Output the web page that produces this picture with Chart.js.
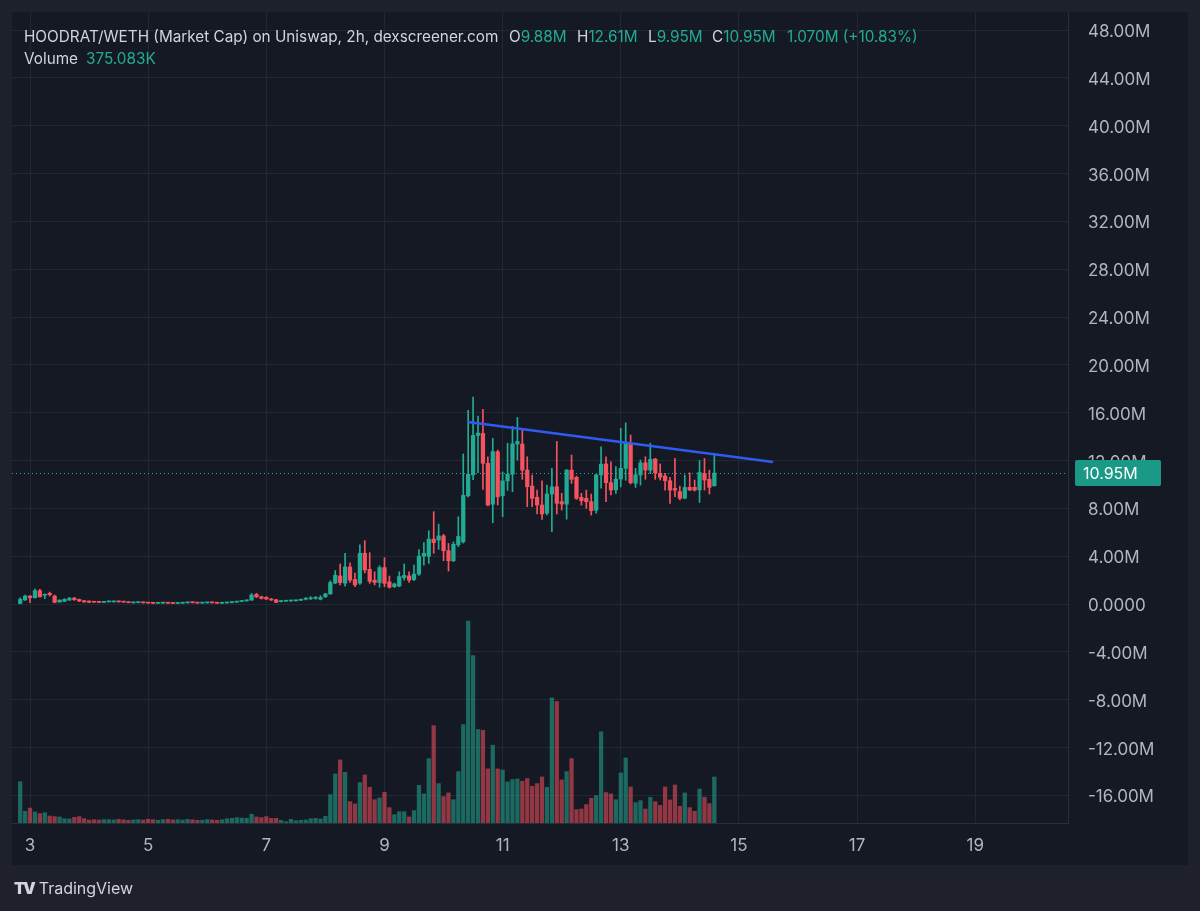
<!DOCTYPE html>
<html>
<head>
<meta charset="utf-8">
<title>HOODRAT/WETH</title>
<script src="https://cdn.jsdelivr.net/npm/chart.js@4.4.1/dist/chart.umd.min.js"></script>
<style>
  html, body { margin: 0; padding: 0; background: #1e212b; }
  body { width: 1200px; height: 911px; position: relative; overflow: hidden; font-family: Inter, "Noto Sans", sans-serif; }
  #panel { position: absolute; left: 12px; top: 12px; width: 1176px; height: 853px; background: #151924; }
  #chart { position: absolute; left: 0; top: 0; }
  .legend { position: absolute; font-size: 15.3px; line-height: 22px; color: #d1d4dc; white-space: nowrap; }
  .up { color: #22ab94; }
  #brand { position: absolute; left: 14px; top: 877px; color: #d1d4dc; font-size: 16px; line-height: 22px; }
  #brand b { font-weight: 900; letter-spacing: -2px; margin-right: 5px; }
</style>
</head>
<body>
<div id="panel"></div>
<canvas id="chart" width="1200" height="911"></canvas>

<div class="legend" style="left:24px;top:26px">HOODRAT/WETH (Market Cap) on Uniswap, 2h, dexscreener.com</div>
<div class="legend" style="left:509px;top:26px">O<span class="up">9.88M</span></div>
<div class="legend" style="left:577px;top:26px">H<span class="up">12.61M</span></div>
<div class="legend" style="left:648px;top:26px">L<span class="up">9.95M</span></div>
<div class="legend" style="left:712px;top:26px">C<span class="up">10.95M</span></div>
<div class="legend up" style="left:787px;top:26px">1.070M (+10.83%)</div>
<div class="legend" style="left:24px;top:48px">Volume</div>
<div class="legend up" style="left:86px;top:48px">375.083K</div>
<div id="brand"><b>TV</b>TradingView</div>

<script>
// 2h candles, market cap in millions, volume in thousands
const FIRST_CANDLE_DAY = 2 + 20 / 24;
const CANDLE_STEP = 2 / 24;

const OPEN = [
  0.05, 0.34, 0.67, 0.53, 1.12, 0.73, 0.90, 0.67, 0.17, 0.22,
  0.33, 0.50, 0.39, 0.28, 0.25, 0.20, 0.18, 0.14, 0.18, 0.18,
  0.23, 0.20, 0.17, 0.10, 0.12, 0.15, 0.12, 0.10, 0.06, 0.08,
  0.11, 0.09, 0.05, 0.07, 0.10, 0.16, 0.12, 0.08, 0.10, 0.14,
  0.11, 0.07, 0.09, 0.12, 0.16, 0.21, 0.26, 0.33, 0.81, 0.61,
  0.56, 0.42, 0.36, 0.20, 0.24, 0.26, 0.27, 0.31, 0.40, 0.44,
  0.48,
  0.40, 0.60, 0.85, 1.75, 2.35, 1.75, 3.10, 2.05, 1.75, 4.25,
  2.90, 2.00, 1.80, 3.05, 1.85, 1.45, 1.50, 2.20, 2.35, 2.05,
  2.50, 4.00, 4.00, 5.43, 5.35, 5.70, 4.46, 3.62, 4.95, 5.20,
  9.05, 10.80, 14.10, 14.27, 11.77, 8.35, 12.74, 9.05, 10.30, 10.85,
  13.38, 13.38, 11.20, 9.87, 8.92, 8.28, 7.60, 9.20, 9.81, 8.56,
  8.35, 11.20, 10.60, 8.92, 8.84, 8.56, 7.85, 10.80, 11.71, 10.15,
  9.55, 10.45, 11.35, 13.44, 10.10, 10.80, 11.82, 11.20, 12.13, 10.93,
  10.70, 10.31, 9.67, 9.40, 8.85, 9.76, 9.76, 9.55, 10.93, 10.43,
  9.88
];
const HIGH = [
  0.53, 0.75, 0.70, 1.28, 1.23, 0.85, 1.00, 0.75, 0.36, 0.45,
  0.55, 0.55, 0.42, 0.31, 0.27, 0.23, 0.20, 0.22, 0.25, 0.26,
  0.26, 0.23, 0.19, 0.16, 0.18, 0.17, 0.14, 0.12, 0.12, 0.13,
  0.13, 0.11, 0.10, 0.12, 0.16, 0.18, 0.14, 0.13, 0.15, 0.16,
  0.13, 0.12, 0.15, 0.19, 0.24, 0.29, 0.36, 0.89, 0.90, 0.66,
  0.62, 0.47, 0.40, 0.30, 0.30, 0.31, 0.33, 0.42, 0.55, 0.62,
  0.64,
  0.70, 0.90, 1.95, 2.80, 3.35, 4.25, 3.45, 2.60, 4.95, 5.30,
  4.30, 2.70, 3.20, 3.88, 2.34, 1.75, 2.70, 3.35, 2.70, 3.26,
  4.55, 5.13, 6.13, 7.72, 6.69, 5.83, 5.07, 5.20, 7.30, 12.55,
  16.20, 17.30, 15.72, 16.28, 12.32, 13.85, 12.88, 11.05, 13.45, 14.85,
  15.61, 14.61, 12.32, 10.79, 9.53, 10.31, 9.95, 11.35, 13.60, 9.26,
  11.25, 12.46, 10.70, 9.26, 9.53, 9.20, 10.85, 13.15, 12.32, 11.90,
  11.50, 14.70, 15.15, 14.13, 11.35, 12.05, 12.32, 13.45, 12.18, 11.71,
  10.93, 10.60, 12.18, 9.87, 10.80, 10.98, 10.37, 12.00, 12.18, 11.20,
  12.61
];
const LOW = [
  0.02, 0.30, 0.11, 0.50, 0.58, 0.45, 0.67, 0.10, 0.14, 0.20,
  0.30, 0.30, 0.20, 0.15, 0.12, 0.13, 0.12, 0.12, 0.16, 0.16,
  0.16, 0.14, 0.10, 0.08, 0.10, 0.08, 0.06, 0.04, 0.05, 0.06,
  0.05, 0.03, 0.04, 0.05, 0.08, 0.09, 0.06, 0.06, 0.08, 0.08,
  0.05, 0.05, 0.07, 0.10, 0.14, 0.19, 0.24, 0.30, 0.55, 0.42,
  0.38, 0.30, 0.12, 0.18, 0.22, 0.23, 0.24, 0.29, 0.34, 0.36,
  0.40,
  0.35, 0.55, 0.80, 1.70, 1.60, 1.50, 1.80, 1.45, 1.65, 2.60,
  1.73, 1.60, 1.40, 1.45, 1.33, 1.38, 1.45, 2.00, 1.80, 1.95,
  2.40, 3.26, 3.40, 4.24, 4.57, 3.62, 2.76, 3.55, 4.80, 5.10,
  8.95, 10.40, 10.98, 9.59, 8.20, 6.80, 8.28, 7.30, 9.50, 9.40,
  12.04, 10.43, 8.14, 8.14, 7.53, 7.08, 7.45, 6.05, 7.53, 7.86,
  7.10, 10.09, 8.75, 8.28, 8.00, 7.44, 7.60, 9.70, 8.56, 9.12,
  9.25, 9.80, 10.35, 10.04, 9.75, 9.95, 10.43, 10.90, 10.43, 10.37,
  9.53, 8.42, 8.97, 8.70, 8.80, 9.50, 9.45, 8.50, 9.53, 9.20,
  9.88
];
const CLOSE = [
  0.39, 0.67, 0.53, 1.12, 0.61, 0.81, 0.78, 0.14, 0.33, 0.39,
  0.50, 0.36, 0.25, 0.17, 0.14, 0.15, 0.14, 0.20, 0.22, 0.23,
  0.18, 0.16, 0.12, 0.14, 0.15, 0.10, 0.08, 0.06, 0.10, 0.11,
  0.07, 0.05, 0.09, 0.10, 0.14, 0.11, 0.08, 0.11, 0.13, 0.10,
  0.07, 0.10, 0.13, 0.17, 0.22, 0.27, 0.33, 0.75, 0.59, 0.47,
  0.42, 0.33, 0.14, 0.28, 0.28, 0.29, 0.31, 0.39, 0.45, 0.50,
  0.52,
  0.55, 0.85, 1.80, 2.40, 1.80, 3.10, 2.00, 1.60, 4.25, 2.85,
  1.90, 1.80, 3.05, 1.73, 1.40, 1.68, 2.30, 2.40, 2.00, 2.50,
  4.00, 4.25, 5.43, 5.13, 5.70, 4.46, 3.62, 5.00, 5.65, 9.10,
  10.85, 14.10, 14.30, 11.77, 8.28, 12.75, 8.97, 10.30, 10.85, 13.40,
  13.60, 11.20, 9.81, 8.84, 8.28, 7.53, 9.20, 9.80, 8.42, 8.36,
  11.20, 10.43, 8.84, 8.64, 8.56, 7.81, 10.80, 11.70, 10.15, 9.53,
  10.45, 11.35, 13.45, 10.15, 10.80, 11.80, 11.20, 12.10, 10.98, 10.60,
  10.31, 9.53, 9.53, 8.84, 9.75, 9.53, 9.53, 11.00, 10.37, 9.76,
  10.95
];
const VOLUME = [
  337, 95, 122, 90, 76, 84, 57, 52, 49, 35,
  33, 46, 52, 35, 24, 27, 24, 28, 27, 25,
  30, 26, 22, 25, 27, 24, 30, 27, 22, 28,
  30, 25, 27, 24, 30, 26, 22, 23, 28, 25,
  22, 26, 35, 38, 44, 40, 38, 71, 49, 44,
  52, 38, 38, 22, 11, 30, 19, 22, 25, 35,
  38,
  33, 54, 231, 400, 514, 413, 174, 155, 329, 392,
  291, 190, 204, 250, 125, 68, 92, 92, 49, 101,
  307, 237, 525, 794, 321, 215, 245, 190, 419, 802,
  1646, 1365, 762, 756, 441, 634, 441, 432, 335, 354,
  359, 340, 362, 299, 321, 375, 291, 1020, 990, 351,
  419, 525, 109, 114, 150, 201, 223, 743, 248, 237,
  190, 408, 530, 294, 166, 182, 114, 209, 174, 144,
  294, 188, 310, 136, 245, 125, 95, 277, 209, 158,
  375
];

const X_TICKS = [3, 5, 7, 9, 11, 13, 15, 17, 19];
const Y_TICKS = [-16, -12, -8, -4, 0, 4, 8, 12, 16, 20, 24, 28, 32, 36, 40, 44, 48];

// hand-drawn resistance line
const TREND_DAYS = [10.415, 15.578];
const TREND_VALUES = [15.22, 11.88];

const LAST_PRICE = 10.95;

const UP = "#22ab94";
const DOWN = "#f7525f";
const UP_VOL = "rgba(34,171,148,0.55)";
const DOWN_VOL = "rgba(247,82,95,0.55)";
const GRID = "#232733";
const TEXT = "#b2b5be";

function dayOf(i) { return FIRST_CANDLE_DAY + i * CANDLE_STEP; }
function isUp(i) { return CLOSE[i] >= OPEN[i]; }

const candleColors = OPEN.map((o, i) => isUp(i) ? UP : DOWN);
const volColors = OPEN.map((o, i) => isUp(i) ? UP_VOL : DOWN_VOL);

// no extra room for half tick labels: keep the plot area where the layout padding puts it
function noLabelPadding(s) {
  s.paddingTop = 0; s.paddingBottom = 0; s.paddingLeft = 0; s.paddingRight = 0;
}

const lastPricePlugin = {
  id: "lastPrice",
  beforeDatasetsDraw(chart) {
    const { ctx, chartArea, scales } = chart;
    const py = Math.round(scales.y.getPixelForValue(LAST_PRICE)) + 0.5;
    ctx.save();
    ctx.strokeStyle = UP;
    ctx.lineWidth = 1;
    ctx.setLineDash([1, 3]);
    ctx.beginPath();
    ctx.moveTo(chartArea.left, py);
    ctx.lineTo(chartArea.right, py);
    ctx.stroke();
    ctx.restore();
  },
  afterDraw(chart) {
    const { ctx, chartArea, scales } = chart;
    const py = scales.y.getPixelForValue(LAST_PRICE);
    const x0 = chartArea.right + 7;
    ctx.save();
    ctx.fillStyle = "#1a9a86";
    ctx.beginPath();
    ctx.roundRect(x0, py - 13, 86, 26, 2);
    ctx.fill();
    ctx.fillStyle = "#ffffff";
    ctx.font = "16px Inter, 'Noto Sans', sans-serif";
    ctx.textBaseline = "middle";
    ctx.textAlign = "left";
    ctx.fillText(LAST_PRICE.toFixed(2) + "M", x0 + 8, py + 1);
    ctx.restore();
  }
};

new Chart(document.getElementById("chart"), {
  type: "bar",
  data: {
    datasets: [
      {
        type: "line",
        data: TREND_DAYS.map((d, i) => ({ x: d, y: TREND_VALUES[i] })),
        borderColor: "#2f5bf3",
        borderWidth: 2.5,
        pointRadius: 0,
        yAxisID: "y",
        order: 0
      },
      {
        data: OPEN.map((o, i) => ({ x: dayOf(i), y: [o, CLOSE[i]] })),
        backgroundColor: candleColors,
        barThickness: 3.6,
        minBarLength: 1,
        grouped: false,
        yAxisID: "y",
        order: 1
      },
      {
        data: OPEN.map((o, i) => ({ x: dayOf(i), y: [LOW[i], HIGH[i]] })),
        backgroundColor: candleColors,
        barThickness: 1,
        grouped: false,
        yAxisID: "y",
        order: 2
      },
      {
        data: VOLUME.map((v, i) => ({ x: dayOf(i), y: v })),
        backgroundColor: volColors,
        barThickness: 3.6,
        grouped: false,
        yAxisID: "yv",
        order: 3
      }
    ]
  },
  options: {
    responsive: false,
    animation: false,
    devicePixelRatio: 1,
    layout: { padding: { left: 12, top: 12, right: 12, bottom: 46 } },
    plugins: { legend: { display: false }, tooltip: { enabled: false } },
    scales: {
      x: {
        type: "linear",
        min: 2.695,
        max: 20.57,
        offset: false,
        afterBuildTicks: s => { s.ticks = X_TICKS.map(v => ({ value: v })); },
        afterFit: s => { s.height = 42; noLabelPadding(s); },
        grid: { color: GRID, drawTicks: false, offset: false },
        border: { color: "#2a2e39" },
        ticks: {
          color: TEXT,
          font: { size: 17, family: "Inter, 'Noto Sans', sans-serif" },
          padding: 13,
          maxRotation: 0,
          autoSkip: false,
          callback: v => String(v)
        }
      },
      y: {
        position: "right",
        min: -18.31,
        max: 49.51,
        afterBuildTicks: s => { s.ticks = Y_TICKS.map(v => ({ value: v })); },
        afterFit: s => { s.width = 120; noLabelPadding(s); },
        grid: { color: GRID, drawTicks: false },
        border: { color: "#2a2e39" },
        ticks: {
          color: TEXT,
          font: { size: 17, family: "Inter, 'Noto Sans', sans-serif" },
          padding: 20,
          labelOffset: 2,
          crossAlign: "near",
          callback: v => v === 0 ? "0.0000" : v.toFixed(2) + "M"
        }
      },
      yv: {
        display: false,
        min: 0,
        max: 6610
      }
    }
  },
  plugins: [lastPricePlugin]
});
</script>
</body>
</html>
